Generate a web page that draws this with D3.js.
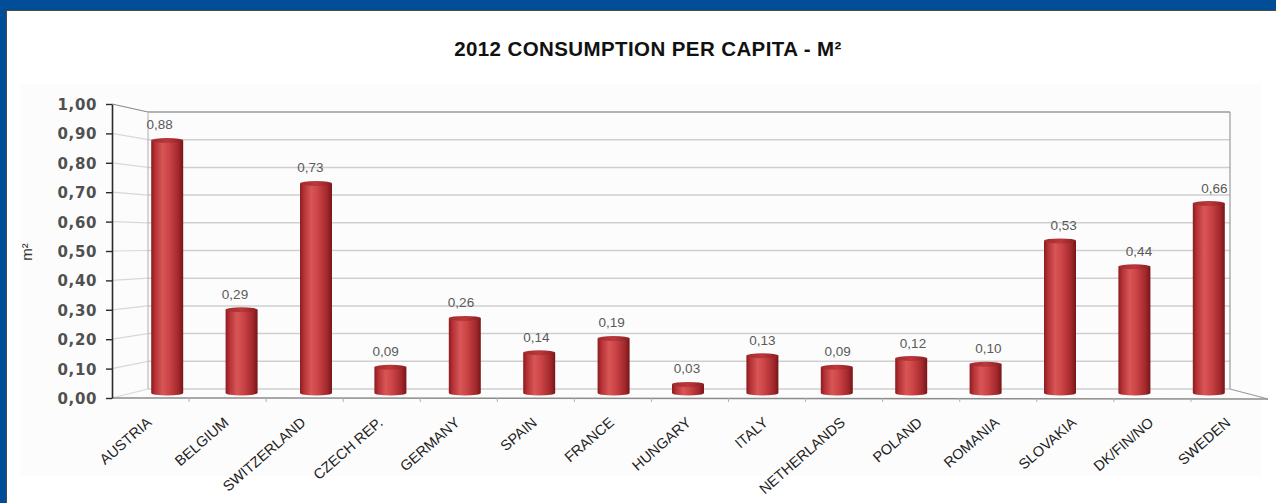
<!DOCTYPE html>
<html>
<head>
<meta charset="utf-8">
<script src="https://cdn.jsdelivr.net/npm/d3@7"></script>
<style>
html,body{margin:0;padding:0;background:#fff;}
svg{display:block;}
</style>
</head>
<body>
<svg id="chart" width="1276" height="503"></svg>
<script>
const categories = ["AUSTRIA","BELGIUM","SWITZERLAND","CZECH REP.","GERMANY","SPAIN","FRANCE","HUNGARY","ITALY","NETHERLANDS","POLAND","ROMANIA","SLOVAKIA","DK/FIN/NO","SWEDEN"];
const values = [0.88,0.29,0.73,0.09,0.26,0.14,0.19,0.03,0.13,0.09,0.12,0.10,0.53,0.44,0.66];
const yTicks = [0,0.1,0.2,0.3,0.4,0.5,0.6,0.7,0.8,0.9,1.0];
const title = "2012 CONSUMPTION PER CAPITA - M²";
const yTitle = "m²";

const svg = d3.select("#chart");
const W = 1276, H = 503;
const fmt = v => d3.format(".2f")(v).replace(".", ",");

// frame
svg.append("rect").attr("x",0).attr("y",0).attr("width",W).attr("height",H).attr("fill","#ffffff");
svg.append("rect").attr("x",20).attr("y",84).attr("width",1242).attr("height",392).attr("fill","#fcfcfc");
svg.append("rect").attr("x",0).attr("y",0).attr("width",W).attr("height",10).attr("fill","#024d97");
svg.append("rect").attr("x",0).attr("y",0).attr("width",6).attr("height",H).attr("fill","#024d97");
svg.append("line").attr("x1",6).attr("x2",W).attr("y1",10.5).attr("y2",10.5).attr("stroke","#4a4a4a").attr("stroke-width",1);
svg.append("line").attr("x1",6.5).attr("x2",6.5).attr("y1",10).attr("y2",H).attr("stroke","#4a4a4a").attr("stroke-width",1);

// scales
const yFront = d3.scaleLinear().domain([0,1]).range([398,104]);
const yBack  = d3.scaleLinear().domain([0,1]).range([389,112]);
const yBar   = d3.scaleLinear().domain([0,1]).range([393,106]);
const xFront = d3.scaleBand().domain(categories).range([112,1268]).padding(0);
const xBack  = d3.scaleBand().domain(categories).range([148,1230]).padding(0);
const xBar   = d3.scaleBand().domain(categories).range([130,1246]).paddingInner(0.57).paddingOuter(0.285);
const xVal   = d3.scaleBand().domain(categories).range([122,1252]).padding(0);

const backL = xBack.range()[0], backR = xBack.range()[1];
const frontL = xFront.range()[0], frontR = xFront.range()[1];

// back wall gridlines
svg.append("g").selectAll("line").data(yTicks).join("line")
  .attr("x1",backL).attr("x2",backR)
  .attr("y1",d=>yBack(d)).attr("y2",d=>yBack(d))
  .attr("stroke",d=>d===1?"#9a9a9a":"#cfcfcf").attr("stroke-width",1.5);
// side wall lines
svg.append("g").selectAll("line").data(yTicks).join("line")
  .attr("x1",frontL).attr("x2",backL)
  .attr("y1",d=>yFront(d)).attr("y2",d=>yBack(d))
  .attr("stroke",d=>d===1?"#8a8a8a":"#d8d8d8").attr("stroke-width",1.2);
// back wall edges
svg.append("line").attr("x1",backL).attr("x2",backL).attr("y1",yBack(1)).attr("y2",yBack(0)).attr("stroke","#bdbdbd").attr("stroke-width",1.2);
svg.append("line").attr("x1",backR).attr("x2",backR).attr("y1",yBack(1)).attr("y2",yBack(0)).attr("stroke","#9a9a9a").attr("stroke-width",1.2);
// floor
svg.append("line").attr("x1",frontL).attr("x2",frontR).attr("y1",yFront(0)).attr("y2",yFront(0)+1).attr("stroke","#8c8c8c").attr("stroke-width",1.5);
svg.append("line").attr("x1",backR).attr("x2",frontR).attr("y1",yBack(0)).attr("y2",yFront(0)+1).attr("stroke","#9a9a9a").attr("stroke-width",1.2);
// floor ticks
svg.append("g").selectAll("line").data(categories.slice(1)).join("line")
  .attr("x1",d=>xFront(d)).attr("x2",d=>xFront(d))
  .attr("y1",yFront(0)).attr("y2",yFront(0)+4)
  .attr("stroke","#b0b0b0").attr("stroke-width",1);

// gradients
const defs = svg.append("defs");
const g = defs.append("linearGradient").attr("id","cyl").attr("x1","0%").attr("x2","100%").attr("y1","0%").attr("y2","0%");
[["0%","#8a1c20"],["12%","#b43135"],["35%","#d85656"],["55%","#cc4547"],["85%","#a2282c"],["100%","#761518"]]
  .forEach(([o,c])=>g.append("stop").attr("offset",o).attr("stop-color",c));
const gt = defs.append("linearGradient").attr("id","cap").attr("x1","0%").attr("x2","100%");
[["0%","#a02a2e"],["50%","#bb383b"],["100%","#8a1e22"]].forEach(([o,c])=>gt.append("stop").attr("offset",o).attr("stop-color",c));

// y axis
const axisG = svg.append("g").attr("transform",`translate(${frontL},0)`);
axisG.call(d3.axisLeft(yFront).tickValues(yTicks).tickFormat(fmt).tickSize(6).tickSizeOuter(0));
axisG.select(".domain").attr("stroke","#2a2a2a").attr("stroke-width",1.6);
axisG.selectAll(".tick line").attr("stroke","#2a2a2a").attr("stroke-width",1.4);
axisG.selectAll(".tick text")
  .attr("x",-15).attr("dy","0.36em")
  .attr("font-family","DejaVu Sans").attr("font-weight","bold").attr("font-size",15)
  .attr("letter-spacing","0.6px").attr("fill","#505050");

// bars
const bars = svg.append("g");
const bw = xBar.bandwidth();
const ry = 2.5;
categories.forEach((c,i)=>{
  const x0 = xBar(c), v = values[i];
  const yt = yBar(v), yb = yBar(0);
  const gg = bars.append("g");
  gg.append("path")
    .attr("d",`M${x0},${yt} L${x0},${yb} A${bw/2},${ry} 0 0 0 ${x0+bw},${yb} L${x0+bw},${yt} Z`)
    .attr("fill","url(#cyl)");
  gg.append("ellipse").attr("cx",x0+bw/2).attr("cy",yt).attr("rx",bw/2).attr("ry",ry)
    .attr("fill","url(#cap)");
});

// value labels
svg.append("g").selectAll("text").data(categories).join("text")
  .attr("x",d=>xVal(d)+xVal.bandwidth()/2)
  .attr("y",(d,i)=>yBar(values[i])-11)
  .attr("text-anchor","middle")
  .attr("font-family","Liberation Sans, Arial, sans-serif").attr("font-size",13.5)
  .attr("fill","#5a5a5a")
  .text((d,i)=>fmt(values[i]));

// x labels
svg.append("g").selectAll("text").data(categories).join("text")
  .attr("transform",d=>`translate(${xFront(d)+xFront.bandwidth()/2+2},424) rotate(-41)`)
  .attr("text-anchor","end")
  .attr("font-family","Liberation Sans, Arial, sans-serif").attr("font-size",14.5)
  .attr("fill","#222")
  .text(d=>d);

// title
svg.append("text").attr("x",648).attr("y",56).attr("text-anchor","middle")
  .attr("font-family","Liberation Sans, Arial, sans-serif").attr("font-weight","bold").attr("font-size",20.5)
  .attr("letter-spacing","0.4px")
  .attr("fill","#111").text(title);

// y title
svg.append("text").attr("transform","translate(32,252) rotate(-90)")
  .attr("text-anchor","middle")
  .attr("font-family","Liberation Sans, Arial, sans-serif").attr("font-size",15)
  .attr("fill","#333").text(yTitle);
</script>
</body>
</html>
